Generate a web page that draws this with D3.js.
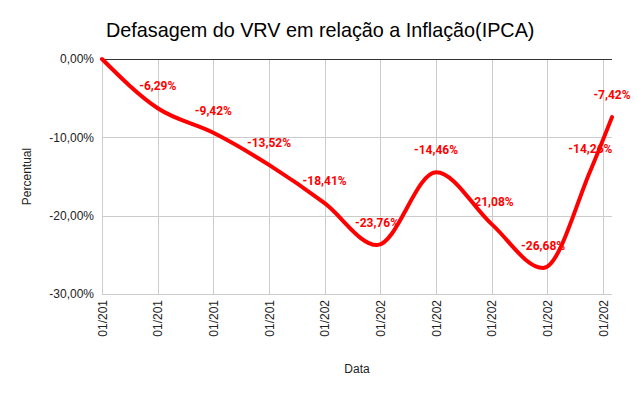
<!DOCTYPE html>
<html>
<head>
<meta charset="utf-8">
<script src="https://cdn.jsdelivr.net/npm/d3@7"></script>
<style>
  body { margin: 0; background: #fff; }
</style>
</head>
<body>
<div id="chart"></div>
<script>
// data
var dates = ["2016-01-01", "2017-01-01", "2018-01-01", "2019-01-01", "2020-01-01",
  "2020-12-10", "2022-01-01", "2023-01-01", "2023-12-05", "2024-10-10", "2025-03-01"];
var values = [0, -6.29, -9.42, -13.52, -18.41, -23.76, -14.46, -21.08, -26.68, -14.26, -7.42];
var tickDates = ["2016-01-01", "2017-01-01", "2018-01-01", "2019-01-01", "2020-01-01",
  "2021-01-01", "2022-01-01", "2023-01-01", "2024-01-01", "2025-01-01"];
var tickLabels = ["01/201", "01/201", "01/201", "01/201", "01/202",
  "01/202", "01/202", "01/202", "01/202", "01/202"];
var yTicks = [0, -10, -20, -30];

var svgWidth = 637;
var svgHeight = 394;
var margin = { top: 59, right: 25, bottom: 100, left: 102 };
var width = svgWidth - margin.left - margin.right;
var height = svgHeight - margin.top - margin.bottom;

var parse = d3.timeParse("%Y-%m-%d");
var data = dates.map((d, i) => ({ date: parse(d), value: values[i] }));
var ticks = tickDates.map(parse);

var svg = d3.select("#chart")
  .append("svg")
  .attr("width", svgWidth)
  .attr("height", svgHeight);

var chartGroup = svg.append("g")
  .attr("transform", `translate(${margin.left}, ${margin.top})`);

var x = d3.scaleTime()
  .domain([data[0].date, data[data.length - 1].date])
  .range([0, width]);

var y = d3.scaleLinear()
  .domain([-30, 0])
  .range([height, 0]);

// gridlines
chartGroup.selectAll(".vgrid")
  .data(ticks)
  .enter()
  .append("line")
  .attr("x1", d => Math.round(x(d)) + 0.5)
  .attr("x2", d => Math.round(x(d)) + 0.5)
  .attr("y1", 0)
  .attr("y2", height)
  .attr("stroke", "#cccccc");

chartGroup.selectAll(".hgrid")
  .data(yTicks)
  .enter()
  .append("line")
  .attr("x1", 0)
  .attr("x2", width)
  .attr("y1", d => Math.round(y(d)) + 0.5)
  .attr("y2", d => Math.round(y(d)) + 0.5)
  .attr("stroke", d => d === 0 ? "#333333" : "#cccccc");

// y axis labels
var leftAxis = d3.axisLeft(y)
  .tickValues(yTicks)
  .tickSize(0)
  .tickPadding(8)
  .tickFormat(d => d3.format(".2f")(d).replace(".", ",").replace("−", "-") + "%");

chartGroup.append("g")
  .call(leftAxis)
  .call(g => g.select(".domain").remove())
  .selectAll("text")
  .attr("font-family", "Liberation Sans, Arial, sans-serif")
  .attr("font-size", "12px")
  .attr("fill", "#222");

// x axis labels
var bottomAxis = d3.axisBottom(x)
  .tickValues(ticks)
  .tickSize(0)
  .tickFormat((d, i) => tickLabels[i]);

chartGroup.append("g")
  .attr("transform", `translate(0, ${height})`)
  .call(bottomAxis)
  .call(g => g.select(".domain").remove())
  .selectAll("text")
  .attr("font-family", "Liberation Sans, Arial, sans-serif")
  .attr("font-size", "12px")
  .attr("fill", "#222")
  .attr("transform", "rotate(-90)")
  .attr("text-anchor", "end")
  .attr("x", -6)
  .attr("y", 0)
  .attr("dy", "0.35em");

// line
var line = d3.line()
  .x(d => x(d.date))
  .y(d => y(d.value))
  .curve(d3.curveMonotoneX);

chartGroup.append("path")
  .datum(data)
  .attr("d", line)
  .attr("fill", "none")
  .attr("stroke", "#ff0000")
  .attr("stroke-width", 4)
  .attr("stroke-linejoin", "round")
  .attr("stroke-linecap", "round");

// value labels
chartGroup.selectAll(".vlabel")
  .data(data.slice(1))
  .enter()
  .append("text")
  .attr("x", d => x(d.date))
  .attr("y", d => y(d.value) - 18)
  .attr("text-anchor", "middle")
  .attr("font-family", "Roboto, sans-serif")
  .attr("font-weight", "bold")
  .attr("font-size", "12px")
  .attr("fill", "#ff0000")
  .text(d => d3.format(".2f")(d.value).replace(".", ",").replace("−", "-") + "%");

// title and axis titles
svg.append("text")
  .attr("x", 106)
  .attr("y", 37)
  .attr("font-family", "Liberation Sans, Arial, sans-serif")
  .attr("font-size", "19.8px")
  .attr("fill", "#000")
  .text("Defasagem do VRV em relação a Inflação(IPCA)");

svg.append("text")
  .attr("transform", `translate(31, ${margin.top + height / 2}) rotate(-90)`)
  .attr("text-anchor", "middle")
  .attr("font-family", "Liberation Sans, Arial, sans-serif")
  .attr("font-size", "12px")
  .attr("fill", "#222")
  .text("Percentual");

svg.append("text")
  .attr("x", 357)
  .attr("y", 373)
  .attr("text-anchor", "middle")
  .attr("font-family", "Liberation Sans, Arial, sans-serif")
  .attr("font-size", "12px")
  .attr("fill", "#222")
  .text("Data");
</script>
</body>
</html>
